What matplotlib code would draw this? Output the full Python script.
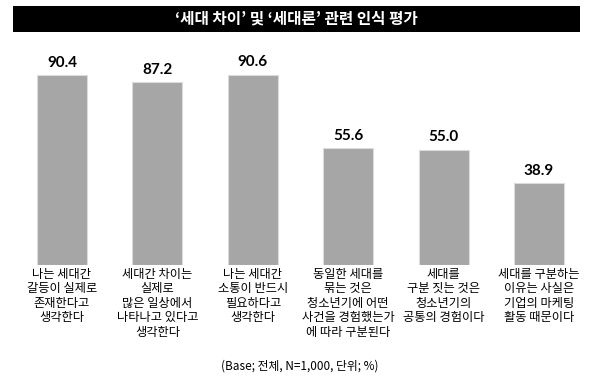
import matplotlib

matplotlib.use("Agg")
import matplotlib.pyplot as plt

plt.rcParams["font.family"] = ["Noto Sans CJK KR", "DejaVu Sans"]

TITLE = "‘세대 차이’ 및 ‘세대론’ 관련 인식 평가"
NOTE = "(Base; 전체, N=1,000, 단위; %)"

categories = [
    "나는 세대간\n갈등이 실제로\n존재한다고\n생각한다",
    "세대간 차이는\n실제로\n많은 일상에서\n나타나고 있다고\n생각한다",
    "나는 세대간\n소통이 반드시\n필요하다고\n생각한다",
    "동일한 세대를\n묶는 것은\n청소년기에 어떤\n사건을 경험했는가\n에 따라 구분된다",
    "세대를\n구분 짓는 것은\n청소년기의\n공통의 경험이다",
    "세대를 구분하는\n이유는 사실은\n기업의 마케팅\n활동 때문이다",
]
values = [90.4, 87.2, 90.6, 55.6, 55.0, 38.9]

BAR = "#a6a6a6"
W, H = 600, 384

fig = plt.figure(figsize=(6.0, 3.84), dpi=100)
fig.patch.set_facecolor("white")

# black title strip
tax = fig.add_axes([13 / W, (H - 32) / H, 567 / W, 26 / H])
tax.set_facecolor("black")
tax.set_xticks([])
tax.set_yticks([])
for s in tax.spines.values():
    s.set_visible(False)
tax.text(0.5, 0.5, TITLE, color="white", fontsize=11.3, fontweight="bold",
         ha="center", va="center", transform=tax.transAxes)

# bar area: zero line at y=265px, ~2.1 px per unit
ax = fig.add_axes([14.3 / W, (H - 265) / H, 572.4 / W, 209.7 / H])
xs = list(range(len(values)))
bars = ax.bar(xs, values, width=0.524, color=BAR, edgecolor="#dcdcdc", linewidth=0.8)
ax.set_xlim(-0.5, len(values) - 0.5)
ax.set_ylim(0, 100)
ax.axis("off")

for b, v in zip(bars, values):
    ax.annotate(f"{v:.1f}", (b.get_x() + b.get_width() / 2, v), xytext=(0, 4),
                textcoords="offset points", ha="center", va="bottom",
                fontsize=11, fontweight="bold", family=["Lato", "DejaVu Sans"])

for x, lab in zip(xs, categories):
    ax.annotate(lab, (x, 0), xytext=(0, -2), textcoords="offset points",
                ha="center", va="top", fontsize=8.8, linespacing=1.15,
                annotation_clip=False)

fig.text(0.5, (H - 366) / H, NOTE, ha="center", va="center", fontsize=8.5)

fig.savefig("out.png", dpi=100, facecolor="white")
